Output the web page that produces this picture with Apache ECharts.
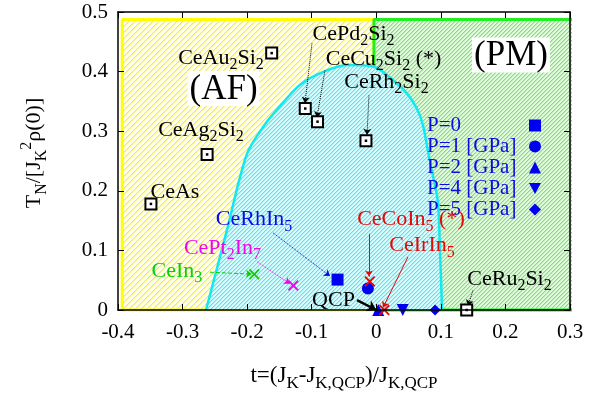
<!DOCTYPE html>
<html>
<head>
<meta charset="utf-8">
<script src="https://cdn.jsdelivr.net/npm/echarts@6/dist/echarts.min.js"></script>
<style>
  html, body { margin: 0; padding: 0; background: #fff; }
  #chart { width: 601px; height: 397px; }
</style>
</head>
<body>
<div id="chart"></div>
<script>
// ---- data -------------------------------------------------------------
// Ground-state compounds at ambient pressure (open squares)
const squareNames = ['CeAu2Si2', 'CePd2Si2', 'CeCu2Si2', 'CeRh2Si2', 'CeAg2Si2', 'CeAs', 'CeRu2Si2'];
const squareT     = [-0.162, -0.110, -0.091, -0.016, -0.262, -0.349, 0.140];
const squareTN    = [ 0.431,  0.338,  0.316,  0.284,  0.261,  0.178, 0.000];

// CeRhIn5 under pressure (filled blue symbols)
const pressureLabels = ['P=0', 'P=1 [GPa]', 'P=2 [GPa]', 'P=4 [GPa]', 'P=5 [GPa]'];
const pressureT      = [-0.060, -0.013, 0.003, 0.041, 0.091];
const pressureTN     = [ 0.051,  0.036, 0.000, 0.000, 0.000];

// Other heavy-fermion compounds (crosses)
const crossNames = ['CeIn3', 'CePt2In7', 'CeCoIn5', 'CeIrIn5'];
const crossT     = [-0.189, -0.1285, -0.010, 0.0125];
const crossTN    = [ 0.060,  0.041,   0.048, 0.000];

// Antiferromagnetic dome boundary T_N(t)
const domeT  = [-0.2637, -0.232, -0.2003, -0.172, -0.149, -0.118, -0.083, -0.0454, -0.0051, 0.0259, 0.0475, 0.063, 0.0723, 0.080, 0.0878, 0.0955, 0.0986, 0.1005, 0.1017];
const domeTN = [ 0.000,   0.131,  0.2618,  0.312,  0.342,  0.378,  0.399,  0.411,   0.4085, 0.386,  0.3634, 0.3376, 0.310, 0.2666, 0.2247, 0.181, 0.1005, 0.045, 0.000];

// AF and PM shaded regions (outlines)
const afT  = [-0.3934, -0.3934, -0.0036, -0.0036, -0.3934];
const afTN = [ 0.000,   0.4876,  0.4876,  0.000,   0.000];
const pmT  = [-0.0036, -0.0036,  0.3108,  0.3108, -0.0036];
const pmTN = [ 0.000,   0.4876,  0.4876,  0.000,   0.000];

// Axis ticks
const xTicks = { min: -0.4, max: 0.3, step: 0.1 };
const yTicks = { min: 0, max: 0.5, step: 0.1 };

// ---- styling helpers --------------------------------------------------
const SERIF = 'Liberation Serif, "DejaVu Serif", serif';
const BLUE = '#0c0ce0', RED = '#e40808', GREEN = '#08d008', MAGENTA = '#ec08ec';

// Diagonal "/" hatch tile built pixel by pixel: one strong pixel per row
// plus a softer neighbour, on a (possibly tinted) ground.
function hatch(ground, strong, soft, step) {
  const c = document.createElement('canvas');
  c.width = c.height = step;
  const g = c.getContext('2d');
  g.fillStyle = ground;
  g.fillRect(0, 0, step, step);
  for (let y = 0; y < step; y++) {
    const x = (step - 1 - y + step) % step;
    g.fillStyle = strong;
    g.fillRect(x, y, 1, 1);
    g.fillStyle = soft;
    g.fillRect((x + 1) % step, y, 1, 1);
  }
  return { image: c, repeat: 'repeat' };
}

function richFor(color, size) {
  const sub = Math.round(size * 0.73);
  return {
    s: { fontFamily: SERIF, fontSize: sub, color: color, padding: [Math.round(size * 0.64), 0, 0, 0] },
    p: { fontFamily: SERIF, fontSize: sub, color: color, padding: [0, 0, Math.round(size * 0.7), 0] }
  };
}

const zip = (a, b) => a.map((v, i) => [v, b[i]]);

// Text annotations, anchored in data units (t, T_N)
const notes = [
  { text: 'CeAu{s|2}Si{s|2}', at: [-0.2405, 0.423] },
  { text: '(AF)', at: [-0.2366, 0.3715], size: 35, box: true },
  { text: 'CeAg{s|2}Si{s|2}', at: [-0.2715, 0.302] },
  { text: 'CePd{s|2}Si{s|2}', at: [-0.0353, 0.4634] },
  { text: 'CeCu{s|2}Si{s|2} (*)', at: [0.0112, 0.4215] },
  { text: 'CeRh{s|2}Si{s|2}', at: [0.0158, 0.3827] },
  { text: 'CeAs', at: [-0.3118, 0.1973] },
  { text: 'CeRhIn{s|5}', at: [-0.1894, 0.152], color: BLUE },
  { text: 'CePt{s|2}In{s|7}', at: [-0.2382, 0.1037], color: MAGENTA },
  { text: 'CeIn{s|3}', at: [-0.3087, 0.065], color: GREEN },
  { text: 'QCP', at: [-0.0663, 0.0166] },
  { text: 'CeCoIn{s|5} (*)', at: [0.0537, 0.152], color: RED },
  { text: 'CeIrIn{s|5}', at: [0.0708, 0.1085], color: RED },
  { text: 'CeRu{s|2}Si{s|2}', at: [0.2063, 0.052] },
  { text: '(PM)', at: [0.2086, 0.428], size: 35, box: true }
];

// Leader lines from annotation to point
const leaders = [
  { from: [-0.0996, 0.4473], to: [-0.1104, 0.3473], color: '#000', type: 'dotted' },
  { from: [-0.0795, 0.402],  to: [-0.0919, 0.3231], color: '#000', type: 'dotted' },
  { from: [-0.0113, 0.360],  to: [-0.0144, 0.2940], color: '#000', type: 'dotted' },
  { from: [-0.160, 0.1295],  to: [-0.0717, 0.0569], color: BLUE, type: 'dotted' },
  { from: [-0.1848, 0.0811], to: [-0.1337, 0.044],  color: MAGENTA, type: 'dotted' },
  { from: [-0.2576, 0.0634], to: [-0.1925, 0.0602], color: GREEN, type: 'dashed' },
  { from: [-0.0113, 0.1279], to: [-0.0113, 0.0560], color: RED, type: 'solid' },
  { from: [0.0491, 0.0892],  to: [0.0104, 0.004],   color: RED, type: 'solid' },
  { from: [0.1497, 0.0327],  to: [0.1420, 0.0069],  color: '#000', type: 'dotted' }
];
const qcpArrow = { from: [-0.0299, 0.0166], to: [0, 0] };

// ---- chart -------------------------------------------------------------
const chart = echarts.init(document.getElementById('chart'), null, { renderer: 'canvas' });

const axisCommon = {
  type: 'value',
  axisLine: { show: true, onZero: false, lineStyle: { color: '#000', width: 1.5 } },
  axisTick: { show: true, inside: true, length: 6, lineStyle: { color: '#000', width: 1 } },
  splitLine: { show: false },
  z: 10
};

const pressureIcons = ['rect', 'circle', 'triangle', 'path://M0,0L10,0L5,9Z', 'diamond'];
const pressureSizes = [12, 12, 12, 12, 11];
const crossColors = [GREEN, MAGENTA, RED, RED];
const CROSS = 'path://M0,1.2L1.2,0L5,3.8L8.8,0L10,1.2L6.2,5L10,8.8L8.8,10L5,6.2L1.2,10L0,8.8L3.8,5Z';

const series = [
  {
    type: 'line', name: 'AF', data: zip(afT, afTN), symbol: 'none', clip: false, silent: true, z: 1,
    lineStyle: { color: '#ffff00', width: 3 },
    areaStyle: { color: hatch('#fffff4', '#f6f210', '#fbf88c', 6), opacity: 1 }
  },
  {
    type: 'line', name: 'PM', data: zip(pmT, pmTN), symbol: 'none', clip: false, silent: true, z: 1,
    lineStyle: { color: '#22ee22', width: 3 },
    areaStyle: { color: hatch('#e4f9e0', '#84de84', '#b8eeb4', 4), opacity: 1 }
  },
  {
    type: 'line', name: 'dome', data: zip(domeT, domeTN), symbol: 'none', smooth: 0.3, silent: true, z: 2,
    lineStyle: { color: '#11e8f0', width: 2.5 },
    areaStyle: { color: hatch('#e2fbfc', '#5ae6f0', '#a4f2f7', 4), opacity: 1 }
  },
  {
    type: 'lines', coordinateSystem: 'cartesian2d', z: 5, silent: true,
    symbol: ['none', 'arrow'], symbolSize: 6,
    data: leaders.map(l => ({ coords: [l.from, l.to], lineStyle: { color: l.color, type: l.type, width: 1, opacity: 1 } }))
  },
  {
    type: 'lines', coordinateSystem: 'cartesian2d', z: 6, silent: true,
    symbol: ['none', 'arrow'], symbolSize: 9,
    data: [{ coords: [qcpArrow.from, qcpArrow.to] }],
    lineStyle: { color: '#000', width: 2.5, type: 'solid', opacity: 1 }
  },
  {
    type: 'scatter', name: 'compounds', data: zip(squareT, squareTN), symbol: 'rect', symbolSize: 11, z: 7,
    itemStyle: { color: '#fff', borderColor: '#000', borderWidth: 2, opacity: 1 }
  },
  {
    type: 'scatter', name: 'compounds-dot', data: zip(squareT, squareTN), symbol: 'rect', symbolSize: 2.5, z: 8,
    itemStyle: { color: '#000', opacity: 1 }
  },
  ...pressureLabels.map((name, i) => ({
    type: 'scatter', name: name, data: [[pressureT[i], pressureTN[i]]],
    symbol: pressureIcons[i], symbolSize: pressureSizes[i], z: 8, clip: false,
    itemStyle: { color: '#0000f0', opacity: 1 }
  })),
  {
    type: 'scatter', name: 'others', z: 9, clip: false,
    data: crossNames.map((n, i) => ({ name: n, value: [crossT[i], crossTN[i]], itemStyle: { color: crossColors[i] } })),
    symbol: CROSS, symbolSize: 11,
    itemStyle: { opacity: 1 }
  },
  {
    type: 'scatter', name: 'notes', z: 12, silent: true, symbolSize: 1,
    itemStyle: { color: 'transparent', opacity: 1 },
    data: notes.map(n => {
      const color = n.color || '#000';
      const size = n.size || 22;
      return {
        value: n.at,
        label: {
          show: true, position: 'inside', formatter: n.text,
          fontFamily: SERIF, fontSize: size, color: color, opacity: 1,
          textBorderWidth: 0, textBorderColor: 'transparent',
          backgroundColor: n.box ? '#fff' : 'transparent',
          padding: n.box ? [1, 2, -1, 2] : 0,
          rich: richFor(color, size)
        }
      };
    })
  }
];

chart.setOption({
  animation: false,
  backgroundColor: '#fff',
  grid: { left: 118, right: 31, top: 12, bottom: 75, containLabel: false },
  xAxis: [
    Object.assign({}, axisCommon, {
      position: 'bottom', min: xTicks.min, max: xTicks.max, interval: xTicks.step,
      axisLabel: { fontFamily: SERIF, fontSize: 21, color: '#000', margin: 12 },
      name: 't=(J{s|K}-J{s|K,QCP})/J{s|K,QCP}',
      nameLocation: 'middle', nameGap: 50,
      nameTextStyle: { fontFamily: SERIF, fontSize: 23, color: '#000', rich: richFor('#000', 23) }
    }),
    Object.assign({}, axisCommon, {
      position: 'top', min: xTicks.min, max: xTicks.max, interval: xTicks.step,
      axisLabel: { show: false }
    })
  ],
  yAxis: [
    Object.assign({}, axisCommon, {
      position: 'left', min: yTicks.min, max: yTicks.max, interval: yTicks.step,
      axisLabel: { fontFamily: SERIF, fontSize: 21, color: '#000', margin: 10 },
      name: 'T{s|N}/[J{s|K}{p|2}ρ(0)]',
      nameLocation: 'middle', nameGap: 68, nameRotate: 90,
      nameTextStyle: { fontFamily: SERIF, fontSize: 22, color: '#000', rich: richFor('#000', 22), padding: [0, 0, 0, 16] }
    }),
    Object.assign({}, axisCommon, {
      position: 'right', min: yTicks.min, max: yTicks.max, interval: yTicks.step,
      axisLabel: { show: false }
    })
  ],
  legend: {
    orient: 'vertical', left: 427, top: 115, padding: 0, align: 'right',
    itemWidth: 12, itemHeight: 12, itemGap: 0, selectedMode: false,
    formatter: '{t|{name}}',
    textStyle: {
      fontFamily: SERIF, fontSize: 21, color: BLUE, lineHeight: 20,
      rich: { t: { fontFamily: SERIF, fontSize: 21, color: BLUE, width: 97, align: 'left', lineHeight: 20 } }
    },
    data: pressureLabels.map((n, i) => ({ name: n, icon: pressureIcons[i], itemStyle: { opacity: 1 } }))
  },
  series: series
});
</script>
</body>
</html>
